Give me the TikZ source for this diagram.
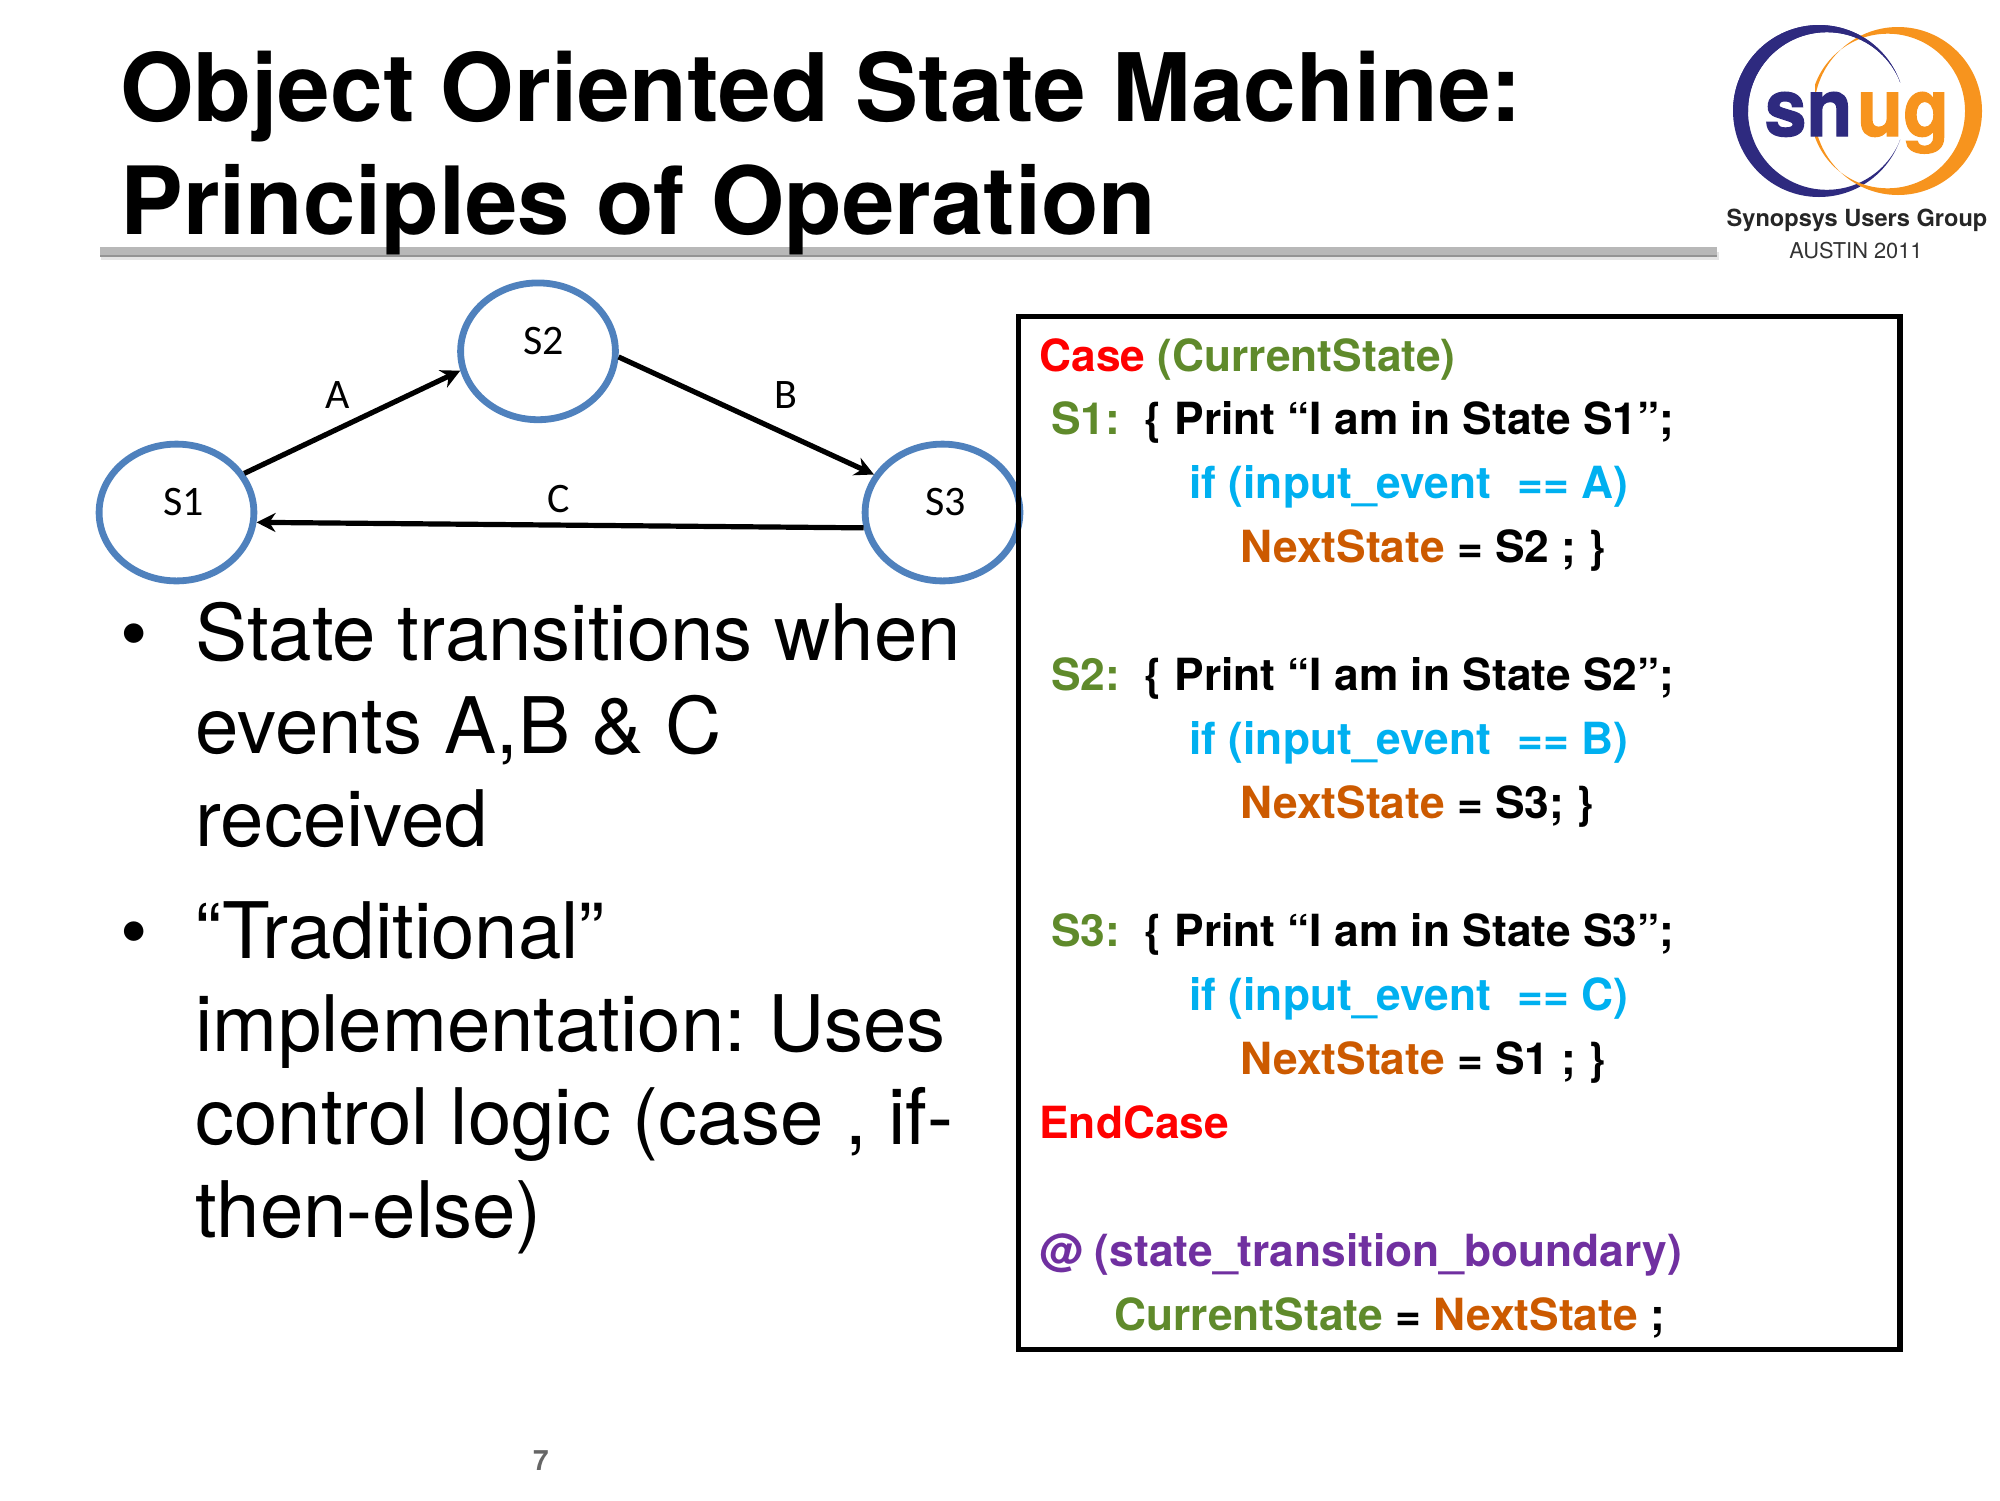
\documentclass[tikz,border=0pt]{standalone}
\usepackage{fontspec}
\setmainfont{TeX Gyre Heros}
\newfontfamily\calib{Carlito}
\newfontfamily\logofont{TeX Gyre Heros Bold}[FakeBold=1.5]
\usetikzlibrary{arrows.meta,shapes.geometric}
\definecolor{stblue}{HTML}{4F81BD}
\definecolor{cred}{HTML}{FF0000}
\definecolor{cgreen}{HTML}{5F8A2B}
\definecolor{ccyan}{HTML}{00B0F0}
\definecolor{corange}{HTML}{CC5A00}
\definecolor{cpurple}{HTML}{7030A0}
\definecolor{snugblue}{HTML}{2E2A7F}
\definecolor{snugor}{HTML}{F7941E}
\tikzset{
 x=0.5pt,y=-0.5pt,
 state/.style={ellipse,draw=stblue,line width=3.4pt,minimum width=77.4pt,minimum height=68.4pt,inner sep=0pt},
 trans/.style={draw=black,line width=2.6pt,-{Stealth[length=9.5pt,width=9.5pt]}},
 edgelab/.style={font=\calib\fontsize{21}{21}\selectfont,inner sep=0pt},
 titletext/.style={font=\bfseries\fontsize{47.25}{57.5}\selectfont,anchor=base west,inner sep=0pt},
 bullettext/.style={font=\fontsize{39}{46.5}\selectfont,anchor=base west,inner sep=0pt},
 code/.style={font=\bfseries\fontsize{22.15}{22.15}\selectfont,anchor=base west,inner sep=0pt},
 logotext/.style={font=\logofont\fontsize{40}{40}\selectfont,inner sep=0pt,anchor=base},
}
\begin{document}
\frenchspacing
\begin{tikzpicture}
\useasboundingbox (0,0) rectangle (2000,1500);
% title rule with its soft shadow
\fill[black!10] (101,252) rectangle (1719,260);
\fill[black!42] (100,253) rectangle (1717,257);
\fill[black!28] (100,247) rectangle (1717,255);
% title
\node[titletext] (t1) at (120,121) {Object Oriented State Machine:};
\node[titletext] (t2) at (120,234) {\fontsize{47.05}{57.5}\selectfont Principles of Operation};
% logo
\begin{scope}
\clip (1700,0) rectangle (1900,200);
\fill[snugblue,even odd rule] (1819,111) circle[radius=86] (1826.8,111) circle[radius=78.8];
\end{scope}
\begin{scope}
\clip (1815,0) rectangle (2000,200);
\fill[snugor,even odd rule] (1898,111) circle[radius=84] (1887.7,111) circle[radius=77.3];
\end{scope}
\begin{scope}
\clip (1700,0) rectangle (1900,111);
\fill[snugblue,even odd rule] (1819,111) circle[radius=86] (1826.8,111) circle[radius=78.8];
\end{scope}
\node[logotext,text=snugblue] (lg1) at (1808.5,136) {\scalebox{0.94}[1]{sn}};
\node[logotext,text=snugor] (lg2) at (1903,136) {\scalebox{0.94}[1]{ug}};
\node[font=\bfseries\fontsize{11.8}{12}\selectfont,text=black!85,inner sep=0pt] (lg3) at (1857,220) {Synopsys Users Group};
\node[font=\fontsize{10.9}{12}\selectfont,text=black!80,inner sep=0pt] (lg4) at (1856,251) {AUSTIN 2011};
% states
\node[state] (s1) at (176.5,512.5) {};
\node[state] (s2) at (538,351.3) {};
\node[state] (s3) at (942.5,512.5) {};
\node[edgelab] (ls1) at (183.5,502) {S1};
\node[edgelab] (ls2) at (544,341) {S2};
\node[edgelab] (ls3) at (945.5,502) {S3};
\draw[trans] (s1.30) -- (s2.194);
\draw[trans] (s2.-4) -- (s3.151);
\draw[trans] (s3.191) -- (s1.-7.5);
\node[edgelab] (la) at (338,395) {A};
\node[edgelab] (lb) at (786,395) {B};
\node[edgelab] (lc) at (559,499) {C};
% bullets
\node[bullettext] (b1) at (120,660) {\textbullet};
\node[bullettext] (b1a) at (195,660) {State transitions when};
\node[bullettext] (b1b) at (195,753) {events A,B \& C};
\node[bullettext] (b1c) at (195,846) {received};
\node[bullettext] (b2) at (120,958) {\textbullet};
\node[bullettext] (b2a) at (195,958) {“Traditional”};
\node[bullettext] (b2b) at (195,1051) {implementation: Uses};
\node[bullettext] (b2c) at (195,1144) {control logic (case , if-};
\node[bullettext] (b2d) at (195,1237) {then-else)};
% code box
\draw[line width=2.6pt] (1018.5,316.5) rectangle (1900,1349.5);
\foreach \nm/\xx/\yy/\tx in {
 c1/1039/371/{\textcolor{cred}{Case} \textcolor{cgreen}{(CurrentState)}},
 c2/1051/434/{\textcolor{cgreen}{S1:} \ \{ Print “I am in State S1”;},
 c3/1189/498/{\textcolor{ccyan}{if (input\_event \ \hspace{1pt}== A)}},
 c4/1240/562/{\textcolor{corange}{NextState} = S2 ; \}},
 c5/1051/690/{\textcolor{cgreen}{S2:} \ \{ Print “I am in State S2”;},
 c6/1189/754/{\textcolor{ccyan}{if (input\_event \ \hspace{1pt}== B)}},
 c7/1240/818/{\textcolor{corange}{NextState} = S3; \}},
 c8/1051/946/{\textcolor{cgreen}{S3:} \ \{ Print “I am in State S3”;},
 c9/1189/1010/{\textcolor{ccyan}{if (input\_event \ \hspace{1pt}== C)}},
 c10/1240/1074/{\textcolor{corange}{NextState} = S1 ; \}},
 c11/1039/1138/{\textcolor{cred}{EndCase}},
 c12/1039/1266/{\textcolor{cpurple}{@ (state\_transition\_boundary)}},
 c13/1114/1330/{\textcolor{cgreen}{CurrentState} = \textcolor{corange}{NextState} ;}}
 {\node[code] (\nm) at (\xx,\yy) {\tx};}
\node[font=\bfseries\fontsize{14}{14}\selectfont,text=black!60,inner sep=0pt] (pg) at (541,1461) {7};
\end{tikzpicture}
\end{document}
